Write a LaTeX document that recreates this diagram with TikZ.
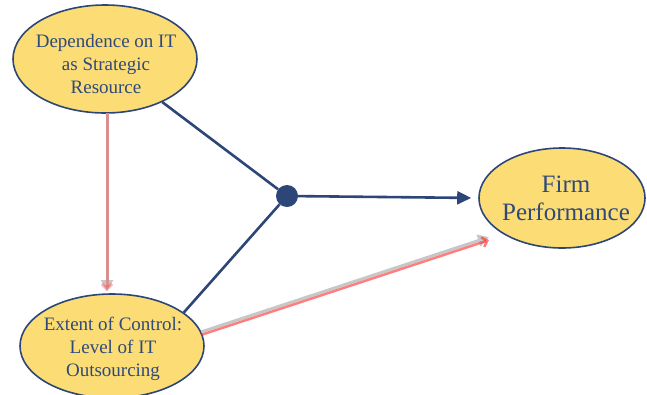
\documentclass[tikz,border=0pt]{standalone}
\usepackage{fontspec}
\setmainfont{Liberation Serif}
\usetikzlibrary{shapes.geometric,arrows.meta}
\definecolor{konyellow}{HTML}{FCDC74}
\definecolor{konblue}{HTML}{2C4677}
\definecolor{kontext}{HTML}{2F4A7A}

\begin{document}
\begin{tikzpicture}[x=1pt,y=-1pt,
  konstrukt/.style={ellipse, draw=konblue, line width=1.6pt, fill=konyellow,
    inner sep=0pt},
  beschriftung/.style={align=center, text=kontext, inner sep=0pt},
  pfad/.style={draw=konblue, line width=2.6pt},
  graupfeil/.style={draw=black!22, line width=3pt,
    -{Triangle[length=11pt,width=12pt]}},
  rotpfeil/.style={draw=red!85, opacity=0.6, line width=2.4pt,
    -{Straight Barb[length=5pt,width=10pt]}}]
\useasboundingbox (0,0) rectangle (647,394);
\node[konstrukt, minimum width=184pt, minimum height=108pt] (dep) at (105,59) {};
\node[beschriftung, font=\fontsize{19}{23}\selectfont] (dep-text) at (106,64)
  {Dependence on IT\\as Strategic\\Resource};
\node[konstrukt, minimum width=184pt, minimum height=104pt] (ext) at (112,346) {};
\node[beschriftung, font=\fontsize{19}{23}\selectfont] (ext-text) at (113,349)
  {Extent of Control:\\Level of IT\\Outsourcing};
\node[konstrukt, minimum width=166pt, minimum height=100pt] (firm) at (562,198) {};
\node[beschriftung, font=\fontsize{25}{28}\selectfont] (firm-text) at (566,198)
  {Firm\\Performance};
\node[circle, fill=konblue, minimum size=22pt, inner sep=0pt] (knoten) at (287,196) {};
\coordinate (unten) at (107,291);
\coordinate (oben) at (107,113);
% moderation
\draw[pfad] (dep) -- (knoten);
\draw[pfad] (ext.25) -- (knoten);
\draw[pfad, -{Triangle[length=14pt,width=13pt]}, shorten >=7pt] (knoten) -- (firm.west);
% direkte Pfade
\draw[graupfeil] (oben) -- (unten);
\draw[rotpfeil, opacity=0.35, line width=3pt] (oben) -- (unten);
\draw[graupfeil, shorten >=13pt] (ext.9) -- (firm.210);
\draw[rotpfeil, transform canvas={yshift=-3pt}, shorten >=13pt] (ext.9) -- (firm.210);
\end{tikzpicture}
\end{document}
